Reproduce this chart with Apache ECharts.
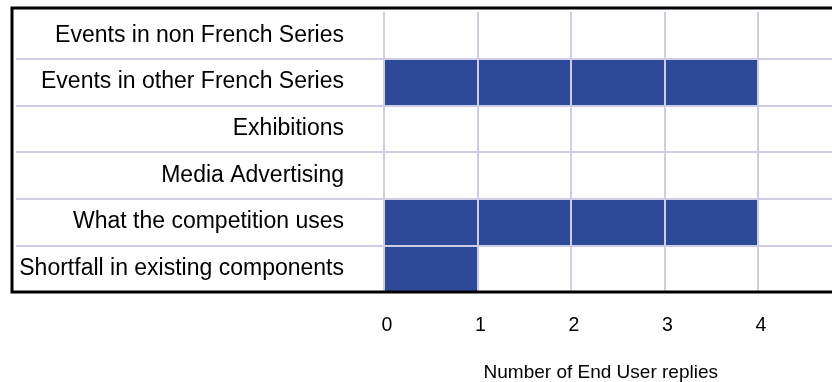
<!DOCTYPE html>
<html>
<head>
<meta charset="utf-8">
<script src="https://cdn.jsdelivr.net/npm/echarts@6/dist/echarts.min.js"></script>
<style>
  html, body { margin: 0; padding: 0; background: #ffffff; }
  #chart { width: 832px; height: 382px; }
</style>
</head>
<body>
<div id="chart"></div>
<script>
// Reasons given, top row first
const categories = [
  'Events in non French Series',
  'Events in other French Series',
  'Exhibitions',
  'Media Advertising',
  'What the competition uses',
  'Shortfall in existing components'
];
// Number of replies for each reason
const replies = [0, 4, 0, 0, 4, 1];
const axisTitle = 'Number of End User replies';

const gridColor = '#cfcce6';
const barColor = '#2d4a99';
const font = 'Liberation Sans, Arial, Helvetica, sans-serif';

const chart = echarts.init(document.getElementById('chart'), null, { renderer: 'canvas' });

chart.setOption({
  animation: false,
  backgroundColor: '#ffffff',
  // the plot runs past the right edge of the canvas, up to the value 5
  grid: {
    left: 384, top: 12, height: 280, width: 467.5,
    containLabel: false,
    outerBoundsMode: 'none'
  },
  xAxis: {
    type: 'value',
    min: 0,
    max: 5,
    interval: 1,
    z: 3,
    axisLine: { show: false },
    axisTick: { show: false },
    axisLabel: {
      margin: 24,
      fontSize: 19.5,
      fontFamily: font,
      color: '#000000',
      showMaxLabel: false,
      padding: [0, 0, 0, 6]
    },
    splitLine: { show: true, lineStyle: { color: gridColor, width: 2 } },
    name: axisTitle,
    nameLocation: 'middle',
    nameGap: 71,
    nameTextStyle: { fontSize: 19, fontFamily: font, color: '#000000', padding: [0, 34, 0, 0] }
  },
  yAxis: {
    type: 'category',
    data: categories,
    inverse: true,
    z: 3,
    axisLine: { show: false },
    axisTick: {
      show: true,
      length: 368,
      interval: (i) => i !== 0,
      lineStyle: { color: gridColor, width: 2 }
    },
    splitLine: {
      show: true,
      interval: (i) => i !== 0,
      lineStyle: { color: gridColor, width: 2 }
    },
    axisLabel: {
      margin: 40,
      fontSize: 23,
      fontFamily: font,
      color: '#000000'
    }
  },
  series: [{
    type: 'bar',
    data: replies,
    barWidth: '100%',
    itemStyle: { color: barColor },
    z: 2
  }],
  graphic: [{
    type: 'polyline',
    z: 100,
    shape: { points: [[832, 8], [12, 8], [12, 292], [832, 292]] },
    style: { stroke: '#000000', lineWidth: 3, fill: null }
  }]
});
</script>
</body>
</html>
